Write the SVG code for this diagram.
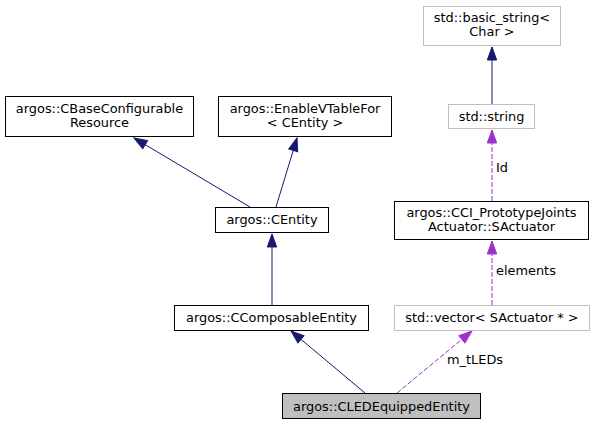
<svg xmlns="http://www.w3.org/2000/svg" width="595" height="425" viewBox="0 0 595 425">
<style>
text{font-family:"DejaVu Sans","Liberation Sans",sans-serif;font-size:12.9px;fill:#000}
.n text{text-anchor:middle}
.b{fill:#fff;stroke:#000;stroke-width:1}
.g{fill:#fff;stroke:#bfbfbf;stroke-width:1}
.h{fill:#bfbfbf;stroke:#000;stroke-width:1}
.e{fill:none;stroke:#191970;stroke-width:1;marker-end:url(#ab)}
.d{fill:none;stroke:#9a32cd;stroke-width:1;stroke-dasharray:5,2;marker-end:url(#ap)}
</style>
<defs>
<marker id="ab" markerUnits="userSpaceOnUse" markerWidth="14" markerHeight="10" refX="13" refY="4.7" orient="auto" overflow="visible"><path d="M0,0 L13,4.7 L0,9.4 z" fill="#191970" stroke="#191970"/></marker>
<marker id="ap" markerUnits="userSpaceOnUse" markerWidth="14" markerHeight="10" refX="13" refY="4.7" orient="auto" overflow="visible"><path d="M0,0 L13,4.7 L0,9.4 z" fill="#9a32cd" stroke="#9a32cd"/></marker>
</defs>
<rect width="595" height="425" fill="#fff"/>
<g id="edges">
<path class="e" d="M250,207 L134,138"/>
<path class="e" d="M276,207 L297,138"/>
<path class="e" d="M272,305 L272,234"/>
<path class="e" d="M365,393 L291,331"/>
<path class="d" d="M397,393 L472,331"/>
<text x="447" y="364">m_tLEDs</text>
<path class="d" d="M492,305 L492,241"/>
<text x="496" y="275">elements</text>
<path class="d" d="M492,201 L492,130"/>
<text x="496" y="172">Id</text>
<path class="e" d="M492,104 L492,47"/>
</g>
<g id="CLEDEquippedEntity" class="n"><rect class="h" x="282.5" y="393.5" width="198" height="25"/><text x="381.5" y="410.5">argos::CLEDEquippedEntity</text></g>
<g id="CComposableEntity" class="n"><rect class="b" x="174.5" y="305.5" width="194" height="25"/><text x="271.5" y="322">argos::CComposableEntity</text></g>
<g id="CEntity" class="n"><rect class="b" x="215.5" y="207.5" width="113" height="25"/><text x="272" y="224">argos::CEntity</text></g>
<g id="CBaseConfigurableResource" class="n"><rect class="b" x="5.5" y="96.5" width="188" height="40"/><text x="99.5" y="112.5">argos::CBaseConfigurable</text><text x="99.5" y="126.5">Resource</text></g>
<g id="EnableVTableFor" class="n"><rect class="b" x="218.5" y="96.5" width="173" height="40"/><text x="305" y="112.5">argos::EnableVTableFor</text><text x="305" y="126.5">&lt; CEntity &gt;</text></g>
<g id="vector" class="n"><rect class="g" x="394.5" y="305.5" width="195" height="25"/><text x="492" y="322">std::vector&lt; SActuator * &gt;</text></g>
<g id="SActuator" class="n"><rect class="b" x="394.5" y="201.5" width="194" height="38"/><text x="491.5" y="217">argos::CCI_PrototypeJoints</text><text x="491.5" y="231">Actuator::SActuator</text></g>
<g id="string" class="n"><rect class="g" x="448.5" y="104.5" width="86" height="24"/><text x="491.5" y="120.5">std::string</text></g>
<g id="basic_string" class="n"><rect class="g" x="423.5" y="6.5" width="137" height="39"/><text x="492" y="22">std::basic_string&lt;</text><text x="492" y="36">Char &gt;</text></g>
</svg>
